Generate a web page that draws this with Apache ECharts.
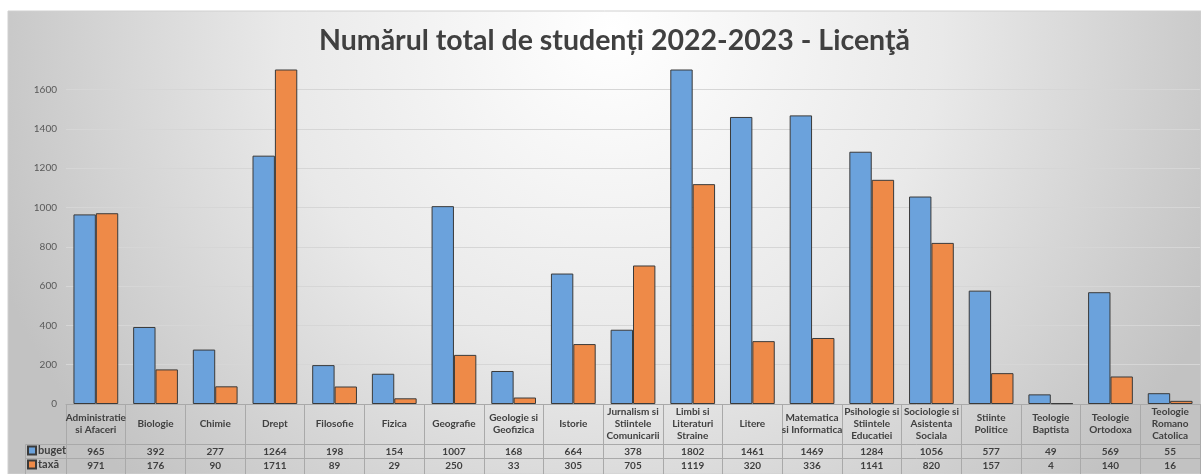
<!DOCTYPE html>
<html>
<head>
<meta charset="utf-8">
<script src="https://cdn.jsdelivr.net/npm/echarts@6/dist/echarts.min.js"></script>
<style>
    html, body { margin: 0; padding: 0; background: #ffffff; }
    #chart { width: 1201px; height: 474px; }
</style>
</head>
<body>
<div id="chart"></div>
<script>
var faculties = [
    'Administratie\nsi Afaceri', 'Biologie', 'Chimie', 'Drept', 'Filosofie', 'Fizica',
    'Geografie', 'Geologie si\nGeofizica', 'Istorie', 'Jurnalism si\nStiintele\nComunicarii',
    'Limbi si\nLiteraturi\nStraine', 'Litere', 'Matematica\nsi Informatica',
    'Psihologie si\nStiintele\nEducatiei', 'Sociologie si\nAsistenta\nSociala',
    'Stiinte\nPolitice', 'Teologie\nBaptista', 'Teologie\nOrtodoxa', 'Teologie\nRomano\nCatolica'
];
var buget = [965, 392, 277, 1264, 198, 154, 1007, 168, 664, 378, 1802, 1461, 1469, 1284, 1056, 577, 49, 569, 55];
var taxa = [971, 176, 90, 1711, 89, 29, 250, 33, 305, 705, 1119, 320, 336, 1141, 820, 157, 4, 140, 16];
var seriesNames = ['buget', 'taxă'];
var yMax = 1700;
var yStep = 200;

var FONT = 'Lato, "Open Sans", sans-serif';
var tableLine = '#a9a9a9';

function loadStudentsChart() {
    var chartDom = document.getElementById('chart');
    var myChart = echarts.init(chartDom, null, { renderer: 'canvas' });
    var option;

    // one colour per split line, the last one (at max) hidden
    var splitColors = [];
    for (var v = 0; v <= yMax; v += yStep) {
        splitColors.push('#d6d6d6');
    }
    splitColors.push('rgba(0,0,0,0)');

    var tableAxis = function (offset, values) {
        return {
            type: 'category',
            gridIndex: 0,
            position: 'bottom',
            offset: offset,
            data: faculties,
            axisLine: { show: true, lineStyle: { color: tableLine, width: 1 } },
            axisTick: { show: false },
            axisLabel: {
                interval: 0,
                margin: 3,
                color: '#404040',
                fontFamily: FONT,
                fontWeight: 'bold',
                fontSize: 10,
                formatter: function (value, index) {
                    return String(values[index]);
                }
            }
        };
    };

    // table row legend, one per row
    var rowLegend = function (name, top) {
        return {
            data: [name],
            orient: 'vertical',
            left: 27,
            top: top,
            padding: 0,
            itemWidth: 8,
            itemHeight: 8,
            icon: 'rect',
            textStyle: {
                fontFamily: FONT,
                fontWeight: 'bold',
                fontSize: 11,
                color: '#404040',
                padding: [0, 0, 0, -3]
            }
        };
    };

    option = {
        animation: false,
        graphic: [
            {
                type: 'rect',
                z: -10,
                silent: true,
                shape: { x: 8, y: 11, width: 1193, height: 463 },
                style: {
                    fill: new echarts.graphic.RadialGradient(612, 30, 660, [
                        { offset: 0, color: '#ffffff' },
                        { offset: 0.5, color: '#e9e9e9' },
                        { offset: 1, color: '#c2c2c2' }
                    ], true),
                    stroke: '#d0d0d0',
                    lineWidth: 1
                }
            },
            { type: 'line', silent: true, shape: { x1: 25.5, y1: 444.5, x2: 66, y2: 444.5 }, style: { stroke: tableLine } },
            { type: 'line', silent: true, shape: { x1: 25.5, y1: 458.5, x2: 66, y2: 458.5 }, style: { stroke: tableLine } },
            { type: 'line', silent: true, shape: { x1: 25.5, y1: 444.5, x2: 25.5, y2: 474 }, style: { stroke: tableLine } }
        ],
        title: {
            text: 'Numărul total de studenți 2022-2023 - Licenţă',
            left: 314,
            top: 21,
            textStyle: {
                fontFamily: FONT,
                fontWeight: 'bold',
                fontSize: 28.5,
                color: '#404040'
            }
        },
        legend: [
            rowLegend(seriesNames[0], 445),
            rowLegend(seriesNames[1], 459)
        ],
        grid: {
            left: 66,
            right: 1,
            top: 70,
            bottom: 70,
            containLabel: false
        },
        xAxis: [
            {
                type: 'category',
                gridIndex: 0,
                position: 'bottom',
                data: faculties,
                axisLine: { show: true, lineStyle: { color: tableLine, width: 1 } },
                axisTick: {
                    show: true,
                    interval: 0,
                    length: 70,
                    lineStyle: { color: tableLine }
                },
                axisLabel: {
                    interval: 0,
                    margin: 20,
                    verticalAlign: 'middle',
                    color: '#404040',
                    fontFamily: FONT,
                    fontWeight: 'bold',
                    fontSize: 10,
                    lineHeight: 12
                }
            },
            tableAxis(40, buget),
            tableAxis(54, taxa)
        ],
        yAxis: {
            type: 'value',
            min: 0,
            max: yMax,
            interval: yStep,
            axisLine: { show: false },
            axisTick: { show: false },
            axisLabel: {
                showMaxLabel: false,
                margin: 9,
                color: '#595959',
                fontFamily: FONT,
                fontSize: 10,
                formatter: function (value) {
                    return String(value);
                }
            },
            splitLine: {
                show: true,
                lineStyle: { color: splitColors, width: 1 }
            }
        },
        series: [
            {
                name: seriesNames[0],
                type: 'bar',
                data: buget,
                barGap: '0%',
                barCategoryGap: '25%',
                itemStyle: { color: '#6ba2dc', borderColor: '#3a3a3a', borderWidth: 1 }
            },
            {
                name: seriesNames[1],
                type: 'bar',
                data: taxa,
                barGap: '0%',
                barCategoryGap: '25%',
                itemStyle: { color: '#ee8a48', borderColor: '#3a3a3a', borderWidth: 1 }
            }
        ]
    };

    myChart.setOption(option);
}

loadStudentsChart();
</script>
</body>
</html>
